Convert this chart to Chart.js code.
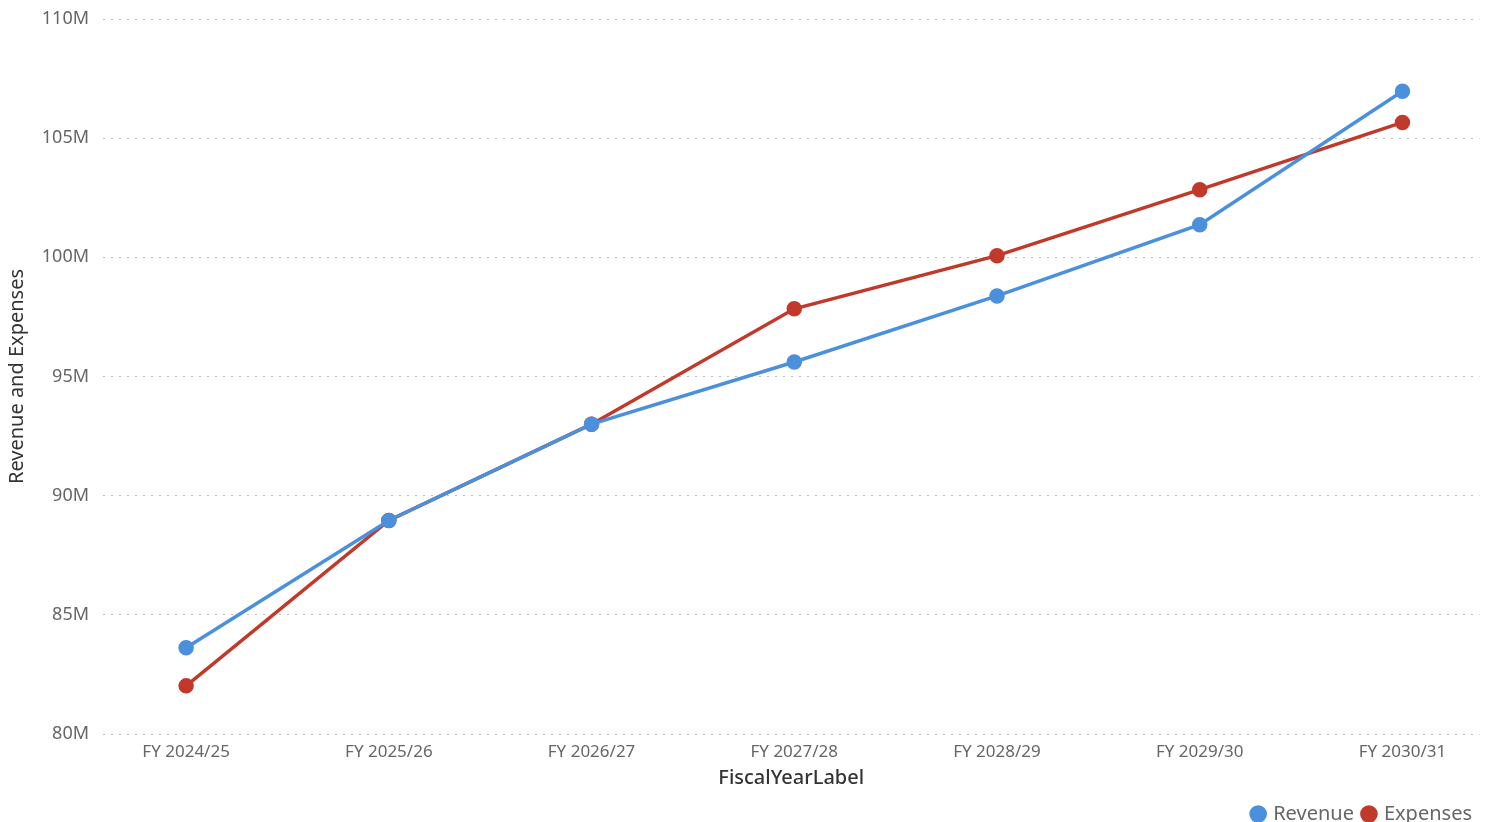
<!DOCTYPE html>
<html>
<head>
<meta charset="utf-8">
<script src="https://cdn.jsdelivr.net/npm/chart.js@4"></script>
<style>
  html, body { margin: 0; padding: 0; background: #fff; }
  #wrap { width: 1489px; height: 822px; }
</style>
</head>
<body>
<div id="wrap"><canvas id="grafico"></canvas></div>
<script>
// Años fiscales y valores (millones)
const fiscalYears = ['FY 2024/25', 'FY 2025/26', 'FY 2026/27', 'FY 2027/28', 'FY 2028/29', 'FY 2029/30', 'FY 2030/31'];
const revenue = [83.62, 88.96, 93.0, 95.61, 98.38, 101.37, 106.97];
const expenses = [82.02, 88.96, 93.0, 97.84, 100.07, 102.84, 105.66];
const yTicks = [80, 85, 90, 95, 100, 105, 110];

const FONT = '"Segoe UI", "Noto Sans", sans-serif';
const toPoints = (vals) => vals.map((v, i) => ({ x: i, y: v }));

new Chart(document.getElementById('grafico'), {
  type: 'line',
  data: {
    datasets: [
      {
        label: 'Revenue',
        data: toPoints(revenue),
        borderColor: '#4A90DC',
        backgroundColor: '#4A90DC',
        borderWidth: 3.5,
        pointRadius: 6,
        pointHoverRadius: 6,
        tension: 0,
      },
      {
        label: 'Expenses',
        data: toPoints(expenses),
        borderColor: '#C1392B',
        backgroundColor: '#C1392B',
        borderWidth: 3.5,
        pointRadius: 6,
        pointHoverRadius: 6,
        tension: 0,
      },
    ],
  },
  options: {
    responsive: true,
    maintainAspectRatio: false,
    animation: false,
    layout: { padding: { top: 19, right: 7, bottom: -12, left: 5 } },
    plugins: {
      tooltip: { enabled: false },
      legend: {
        position: 'bottom',
        align: 'end',
        labels: {
          usePointStyle: true,
          pointStyle: 'circle',
          boxWidth: 10,
          boxHeight: 10,
          padding: 10,
          color: '#666',
          font: { family: FONT, size: 20 },
        },
      },
    },
    scales: {
      x: {
        type: 'linear',
        min: -0.41,
        max: 6.38,
        afterBuildTicks: (axis) => {
          axis.ticks = fiscalYears.map((_, i) => ({ value: i }));
        },
        afterFit: (axis) => { axis.height = 60; },
        ticks: {
          callback: (v) => fiscalYears[v],
          color: '#666',
          font: { family: FONT, size: 17 },
          maxRotation: 0,
          padding: 0,
        },
        grid: { display: false },
        border: { display: false },
        title: {
          display: true,
          text: 'FiscalYearLabel',
          color: '#333',
          font: { family: FONT, size: 20, weight: '500' },
          padding: { top: 0, bottom: 4 },
        },
      },
      y: {
        min: 80,
        max: 110,
        afterBuildTicks: (axis) => {
          axis.ticks = yTicks.map((v) => ({ value: v }));
        },
        afterFit: (axis) => {
          axis.width = 98;
          axis.paddingTop = 0;
        },
        ticks: {
          callback: (v) => v + 'M',
          color: '#666',
          font: { family: FONT, size: 18 },
          padding: 14,
        },
        grid: {
          color: '#bdbdbd',
          lineWidth: 1,
          drawTicks: false,
        },
        border: { display: false, dash: [2, 6] },
        title: {
          display: true,
          text: 'Revenue and Expenses',
          color: '#333',
          font: { family: FONT, size: 20 },
          padding: { top: 0, bottom: 4 },
        },
      },
    },
  },
});
</script>
</body>
</html>
